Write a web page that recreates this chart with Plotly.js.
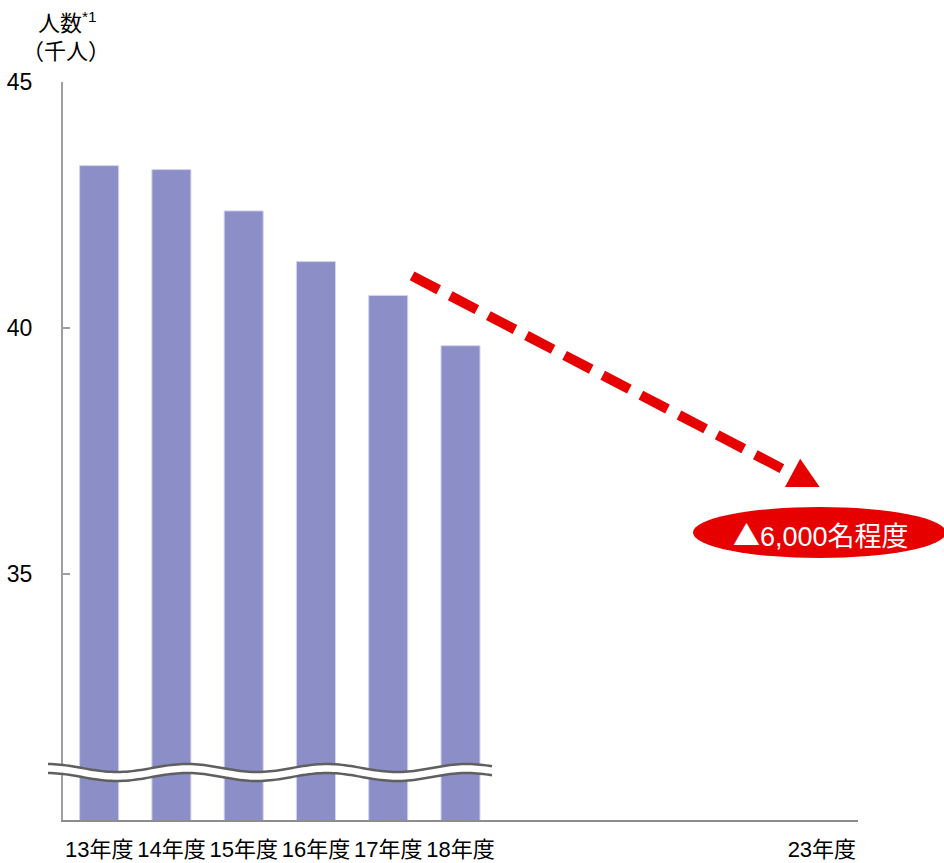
<!DOCTYPE html>
<html><head><meta charset="utf-8">
<script src="https://cdn.plot.ly/plotly-3.0.1.min.js"></script>
<style>html,body{margin:0;padding:0;background:#fff}#chart{width:944px;height:863px}</style>
</head><body><div id="chart"></div>
<script>
// Data
const years = [13, 14, 15, 16, 17, 18];
const values = [43.3, 43.22, 42.38, 41.35, 40.66, 39.64];
const tickYears = [13, 14, 15, 16, 17, 18, 23];
const tickLabels = ['13年度', '14年度', '15年度', '16年度', '17年度', '18年度', '23年度'];
const yTicks = [35, 40, 45];
const forecastMark = '▲';
const forecastText = '6,000名程度';

const FONT = 'Liberation Sans, Arial, Noto Sans CJK JP, sans-serif';
const W = 944, H = 863, ML = 63, MR = 86, MT = 82, MB = 43;
const PW = W - ML - MR, PH = H - MT - MB;
const px2paperX = p => (p - ML) / PW;
const px2paperY = p => (H - MB - p) / PH;

// wavy break (decoration) in paper coords
function wavePts(yc, x0, x1) {
  const pts = [];
  for (let x = x0; x <= x1; x += 3) {
    const y = yc - 4 * Math.cos((x - 47) / 140 * 2 * Math.PI);
    pts.push([x, y]);
  }
  return pts;
}
function toPath(pts) {
  return pts.map((p, i) => (i ? 'L' : 'M') + px2paperX(p[0]).toFixed(5) + ',' + px2paperY(p[1]).toFixed(5)).join(' ');
}
const up = wavePts(768, 48, 494), lo = wavePts(777, 48, 494);
const fillPath = toPath(up.concat(lo.slice().reverse())) + ' Z';

const shapes = [
  {type: 'path', xref: 'paper', yref: 'paper', path: fillPath, fillcolor: '#ffffff', line: {width: 0}, layer: 'above'},
  {type: 'path', xref: 'paper', yref: 'paper', path: toPath(up), line: {color: '#5f5f5f', width: 2.5}, layer: 'above'},
  {type: 'path', xref: 'paper', yref: 'paper', path: toPath(lo), line: {color: '#5f5f5f', width: 2.5}, layer: 'above'},
  // dashed arrow
  {type: 'line', xref: 'x', yref: 'y', x0: 17.33, y0: 41.06, x1: 22.49, y1: 37.11,
   line: {color: '#e60000', width: 10, dash: '30px,13px'}, layer: 'above'},
  {type: 'path', xref: 'x', yref: 'y', path: 'M22.70,37.34 L22.97,36.77 L22.49,36.77 Z',
   fillcolor: '#e60000', line: {width: 0}, layer: 'above'},
  // ellipse
  {type: 'circle', xref: 'paper', yref: 'paper', x0: px2paperX(693), x1: px2paperX(946), y0: px2paperY(558), y1: px2paperY(507),
   fillcolor: '#e60000', line: {width: 0}, layer: 'above'}
];

const annotations = [
  {xref: 'paper', yref: 'paper', x: px2paperX(67), y: px2paperY(22), text: '人数<sup>*1</sup>', showarrow: false,
   xanchor: 'center', yanchor: 'middle', font: {family: FONT, size: 22, color: '#000'}},
  {xref: 'paper', yref: 'paper', x: px2paperX(66), y: px2paperY(52), text: '（千人）', showarrow: false,
   xanchor: 'center', yanchor: 'middle', font: {family: FONT, size: 22, color: '#000'}},
  {xref: 'paper', yref: 'paper', x: px2paperX(821), y: px2paperY(534),
   text: '<span style="font-family:Noto Sans CJK JP">' + forecastMark + '</span>' + forecastText, showarrow: false,
   xanchor: 'center', yanchor: 'middle', font: {family: FONT, size: 27, color: '#ffffff'}}
];

const trace = {
  type: 'bar', x: years, y: values, width: 0.54,
  marker: {color: '#8b8ec7', line: {color: '#d2d3f0', width: 1}},
  hoverinfo: 'none'
};

const layout = {
  width: W, height: H,
  margin: {l: ML, r: MR, t: MT, b: MB, pad: 0},
  paper_bgcolor: '#fff', plot_bgcolor: '#fff',
  showlegend: false,
  font: {family: FONT, color: '#000'},
  xaxis: {range: [12.5, 23.5], tickmode: 'array', tickvals: tickYears, ticktext: tickLabels,
    showgrid: false, zeroline: false, showline: true, linecolor: '#8c8c8c', linewidth: 2,
    ticks: '', tickfont: {family: FONT, size: 22, color: '#000'}, ticklabelstandoff: 9, fixedrange: true},
  yaxis: {range: [30, 45], tickmode: 'array', tickvals: yTicks, ticktext: yTicks.map(String),
    showgrid: false, zeroline: false, showline: true, linecolor: '#a0a0a0', linewidth: 2,
    ticks: 'inside', ticklen: 7, tickwidth: 2, tickcolor: '#a0a0a0',
    tickfont: {family: FONT, size: 23, color: '#000'}, ticklabelstandoff: 24, fixedrange: true},
  shapes: shapes,
  annotations: annotations
};

Plotly.newPlot('chart', [trace], layout, {displayModeBar: false, staticPlot: true});
</script>
</body></html>
